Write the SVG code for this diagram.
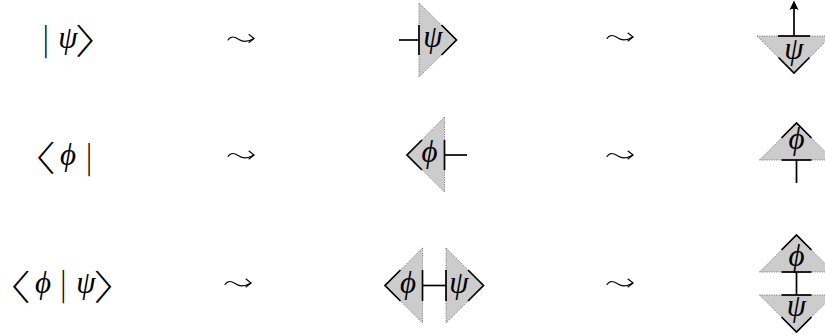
<svg xmlns="http://www.w3.org/2000/svg" width="825" height="335" viewBox="0 0 825 335">
<style>
.tri{fill:#cccccc;stroke:#555;stroke-width:0.8;stroke-dasharray:1 1.4}
.k{fill:none;stroke:#000;stroke-width:1.7;stroke-linecap:butt}
.w{fill:none;stroke:#000;stroke-width:1.7}
.g{font-family:"Liberation Serif","DejaVu Serif",serif;font-style:italic;font-size:31px;text-anchor:middle;fill:#000}
.br{font-family:"Noto Sans CJK JP",sans-serif;font-weight:300;font-size:35px;fill:#000;font-feature-settings:"palt" 1}
.bar{font-family:"Noto Sans CJK JP",sans-serif;font-weight:300;font-size:30px;text-anchor:middle;fill:#000}
.sq{fill:none;stroke:#000;stroke-width:1.1;stroke-linecap:round;stroke-linejoin:round}
</style>
<defs>
<g id="leadsto">
<path class="sq" d="M0,1.5 C3,-3 7,-2 11,1 C15,4 19,4 26,0"/>
<path class="sq" d="M21,-4 L26,0 L21,4"/>
</g>
</defs>

<g id="ket-text">
<text class="bar" x="45.7" y="49.5">|</text>
<text class="g" x="68" y="48">ψ</text>
<text class="br" transform="translate(76,54) scale(1.3,1)">〉</text>
</g>
<g id="bra-text">
<text class="br" transform="translate(32,171) scale(1.3,1)">〈</text>
<text class="g" x="68" y="165">ϕ</text>
<text class="bar" x="89" y="167.5">|</text>
</g>
<g id="braket-text">
<text class="br" transform="translate(7,299.5) scale(1.3,1)">〈</text>
<text class="g" x="43" y="293">ϕ</text>
<text class="bar" x="63.3" y="294.5">|</text>
<text class="g" x="86" y="293">ψ</text>
<text class="br" transform="translate(94.5,299.5) scale(1.3,1)">〉</text>
</g>

<g id="connectors">
<use href="#leadsto" x="228" y="38.5"/>
<use href="#leadsto" x="607" y="37"/>
<use href="#leadsto" x="228" y="155"/>
<use href="#leadsto" x="607" y="155"/>
<use href="#leadsto" x="225" y="283"/>
<use href="#leadsto" x="607" y="283"/>
</g>

<g id="ket-horizontal">
<polygon class="tri" points="419,3 456.5,40 419,77"/>
<line class="k" x1="419" y1="25" x2="419" y2="55"/>
<polyline class="k" points="441.5,25 456.5,40 441.5,55"/>
<line class="w" x1="399" y1="40" x2="419" y2="40"/>
<text class="g" x="433" y="47">ψ</text>
</g>

<g id="ket-vertical">
<polygon class="tri" points="757,36 831,36 794,73"/>
<line class="k" x1="778" y1="36" x2="810" y2="36"/>
<polyline class="k" points="778.5,57.5 794,73 809.5,57.5"/>
<line class="w" x1="794" y1="36" x2="794" y2="7"/>
<path d="M794,0.5 L798.5,10 Q794,7.5 789.5,10 Z" fill="#000"/>
<text class="g" x="794" y="59">ψ</text>
</g>

<g id="bra-horizontal">
<polygon class="tri" points="444.5,117 407,155 444.5,192"/>
<line class="k" x1="444.5" y1="140" x2="444.5" y2="170"/>
<polyline class="k" points="422,140 407,155 422,170"/>
<line class="w" x1="444.5" y1="155" x2="467" y2="155"/>
<text class="g" x="429.5" y="162">ϕ</text>
</g>

<g id="bra-vertical">
<polygon class="tri" points="759.5,160 833.5,160 796.5,123"/>
<line class="k" x1="781.5" y1="160" x2="811.5" y2="160"/>
<polyline class="k" points="781.5,138 796.5,123 811.5,138"/>
<line class="w" x1="796.5" y1="160" x2="796.5" y2="183"/>
<text class="g" x="796.5" y="149">ϕ</text>
</g>

<g id="braket-horizontal">
<polygon class="tri" points="422.5,248 385,285.5 422.5,323"/>
<polygon class="tri" points="446,248 483.5,285.5 446,323"/>
<line class="k" x1="422.5" y1="270" x2="422.5" y2="301"/>
<line class="k" x1="446" y1="270" x2="446" y2="301"/>
<polyline class="k" points="400.5,270 385,285.5 400.5,301"/>
<polyline class="k" points="468,270 483.5,285.5 468,301"/>
<line class="w" x1="422.5" y1="285.5" x2="446" y2="285.5"/>
<text class="g" x="408" y="293">ϕ</text>
<text class="g" x="459" y="293">ψ</text>
</g>

<g id="braket-vertical">
<polygon class="tri" points="759.5,272 833.5,272 796.5,235"/>
<polygon class="tri" points="759.5,295 833.5,295 796.5,332"/>
<line class="k" x1="781.5" y1="272" x2="811.5" y2="272"/>
<line class="k" x1="781.5" y1="295" x2="811.5" y2="295"/>
<polyline class="k" points="781.5,250 796.5,235 811.5,250"/>
<polyline class="k" points="781.5,317 796.5,332 811.5,317"/>
<line class="w" x1="796.5" y1="272" x2="796.5" y2="295"/>
<text class="g" x="796.5" y="266">ϕ</text>
<text class="g" x="796.5" y="316">ψ</text>
</g>
</svg>
